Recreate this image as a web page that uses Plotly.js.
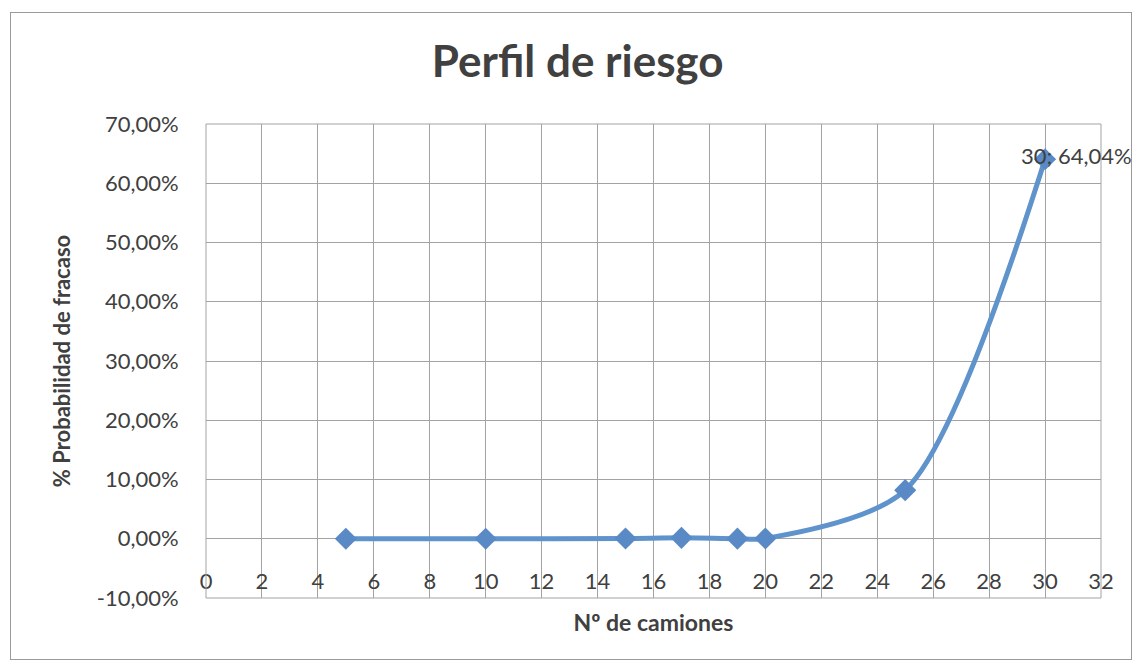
<!DOCTYPE html>
<html>
<head>
<meta charset="utf-8">
<script src="https://cdn.plot.ly/plotly-3.0.1.min.js"></script>
<style>
html,body{margin:0;padding:0;background:#fff;}
#frame{position:absolute;left:10px;top:12px;width:1122px;height:648px;border:1px solid #9a9a9a;box-sizing:border-box;}
#chart{width:1137px;height:667px;}
</style>
</head>
<body>
<div id="frame"></div>
<div id="chart"></div>
<script>
var camiones = [5, 10, 15, 17, 19, 20, 25, 30];
var probFracaso = [0.0000, 0.0000, 0.0005, 0.0015, 0.0002, 0.0005, 0.0820, 0.6404];
var xTicks = [0, 2, 4, 6, 8, 10, 12, 14, 16, 18, 20, 22, 24, 26, 28, 30, 32];
var yTicks = [-0.1, 0, 0.1, 0.2, 0.3, 0.4, 0.5, 0.6, 0.7];
var chartTitle = 'Perfil de riesgo';
var xTitle = 'Nº de camiones';
var yTitle = '% Probabilidad de fracaso';

function pct(v) { return (v * 100).toFixed(2).replace('.', ',') + '%'; }
var last = camiones.length - 1;
var labelText = camiones[last] + '; ' + pct(probFracaso[last]);

var font = 'Lato, "Open Sans", sans-serif';
var trace = {
  x: camiones,
  y: probFracaso,
  type: 'scatter',
  mode: 'lines+markers',
  line: {color: '#5f93cc', width: 5, shape: 'spline', smoothing: 0.8},
  marker: {symbol: 'diamond', size: 17, color: '#5a8ac6'},
  hoverinfo: 'x+y'
};

var layout = {
  width: 1137, height: 667,
  paper_bgcolor: 'rgba(0,0,0,0)',
  plot_bgcolor: 'rgba(0,0,0,0)',
  margin: {l: 206, r: 36, t: 124, b: 69},
  showlegend: false,
  font: {family: font, color: '#404040'},
  title: {text: '<b>' + chartTitle + '</b>', x: 0.508, xref: 'container', xanchor: 'center',
          y: 0.907, yanchor: 'middle',
          font: {family: font, size: 44, color: '#404040'}},
  xaxis: {
    range: [0, 32], tickvals: xTicks, ticktext: xTicks.map(String),
    showgrid: true, gridcolor: '#a3a3a3', gridwidth: 1,
    zeroline: false, showline: false,
    anchor: 'free', position: 0.068,
    ticks: '', tickfont: {size: 22, color: '#404040'},
    title: {text: '<b>' + xTitle + '</b>', font: {size: 23, color: '#404040'}, standoff: 22}
  },
  yaxis: {
    range: [-0.1, 0.7], tickvals: yTicks, ticktext: yTicks.map(pct),
    showgrid: true, gridcolor: '#a3a3a3', gridwidth: 1,
    zeroline: false, showline: false,
    ticks: 'outside', ticklen: 22, tickcolor: 'rgba(0,0,0,0)',
    tickfont: {size: 22, color: '#404040'},
    title: {text: '<b>' + yTitle + '</b>', font: {size: 22, color: '#404040'}, standoff: 20}
  },
  shapes: [
    {type: 'rect', xref: 'paper', yref: 'paper', x0: 0, x1: 1, y0: 0, y1: 1,
     line: {color: '#a3a3a3', width: 1}}
  ],
  annotations: [
    {x: camiones[last], y: probFracaso[last], xref: 'x', yref: 'y', text: labelText,
     showarrow: false, xanchor: 'left', xshift: -26, yshift: 4,
     font: {family: font, size: 22, color: '#404040'}}
  ]
};

Plotly.newPlot('chart', [trace], layout, {displayModeBar: false, staticPlot: true});
</script>
</body>
</html>
